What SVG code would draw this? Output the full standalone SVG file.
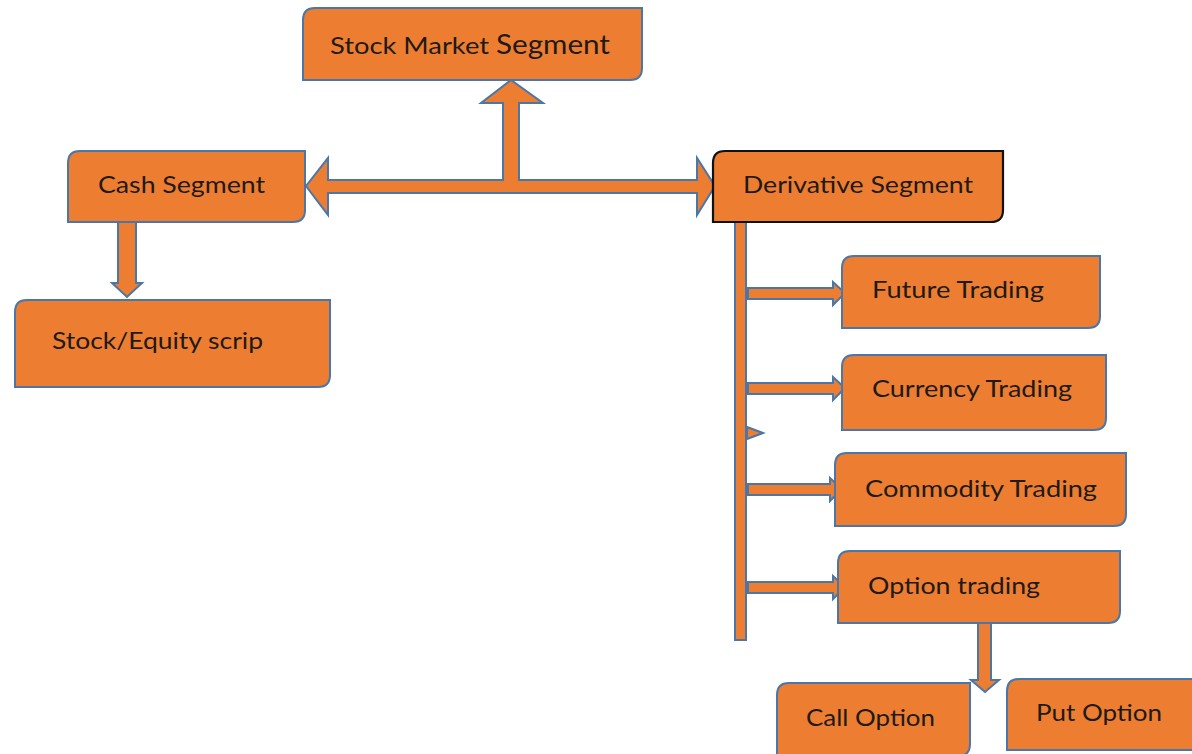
<svg xmlns="http://www.w3.org/2000/svg" width="1192" height="754" viewBox="0 0 1192 754">
  <style>
    .box { fill: #ED7D31; stroke: #4A76A8; stroke-width: 2; }
    .box-dark { fill: #ED7D31; stroke: #111111; stroke-width: 2.2; }
    .arrow { fill: #ED7D31; stroke: #4A76A8; stroke-width: 2; stroke-linejoin: miter; }
    .label { font-family: Lato, "Open Sans", "Liberation Sans", sans-serif; font-size: 24px; fill: #1E1A17; }
  </style>
  <rect width="1192" height="754" fill="#FFFFFF"/>

  <!-- connectors -->
  <g id="connectors">
    <!-- double-headed arrow between Cash and Derivative, with branch up to Stock Market -->
    <polygon class="arrow" points="306,186 328,158 328,180 503,180 503,103 481,103 511,80 543,103 519,103 519,180 697,180 697,158 715,186 697,215 697,193 328,193 328,215"/>
    <!-- Cash Segment down to Stock/Equity scrip -->
    <polygon class="arrow" points="118,222 136,222 136,283 142,283 127,297 112,283 118,283"/>
    <!-- vertical spine under Derivative Segment -->
    <rect class="arrow" x="735" y="222" width="11" height="418"/>
    <polygon class="arrow" points="747,427 763,433 747,439"/>
    <!-- branches to the trading boxes -->
    <polygon class="arrow" points="748,288 833,288 833,282 845,293 833,305 833,299 748,299"/>
    <polygon class="arrow" points="748,383 833,383 833,377 845,388 833,400 833,394 748,394"/>
    <polygon class="arrow" points="748,484 830,484 830,478 842,489 830,501 830,495 748,495"/>
    <polygon class="arrow" points="748,582 833,582 833,576 845,587 833,599 833,593 748,593"/>
    <!-- Option trading down to the option boxes -->
    <polygon class="arrow" points="978,623 991,623 991,680 999,680 985,692 971,680 978,680"/>
  </g>

  <g id="stock-market-segment">
    <path class="box" d="M315,8 H642 V68 Q642,80 630,80 H303 V20 Q303,8 315,8 Z"/>
    <text class="label" x="330" y="54" textLength="280" lengthAdjust="spacingAndGlyphs">Stock Market <tspan font-size="26">Segment</tspan></text>
  </g>

  <g id="cash-segment">
    <path class="box" d="M80,151 H305 V210 Q305,222 293,222 H68 V163 Q68,151 80,151 Z"/>
    <text class="label" x="98" y="193" textLength="167" lengthAdjust="spacingAndGlyphs">Cash Segment</text>
  </g>

  <g id="stock-equity-scrip">
    <path class="box" d="M27,300 H330 V375 Q330,387 318,387 H15 V312 Q15,300 27,300 Z"/>
    <text class="label" x="52" y="349" textLength="211" lengthAdjust="spacingAndGlyphs">Stock/Equity scrip</text>
  </g>

  <g id="derivative-segment">
    <path class="box-dark" d="M725,151 H1003 V210 Q1003,222 991,222 H713 V163 Q713,151 725,151 Z"/>
    <text class="label" x="743" y="193" textLength="230" lengthAdjust="spacingAndGlyphs">Derivative Segment</text>
  </g>

  <g id="future-trading">
    <path class="box" d="M854,256 H1100 V316 Q1100,328 1088,328 H842 V268 Q842,256 854,256 Z"/>
    <text class="label" x="872" y="298" textLength="172" lengthAdjust="spacingAndGlyphs">Future Trading</text>
  </g>

  <g id="currency-trading">
    <path class="box" d="M854,355 H1106 V418 Q1106,430 1094,430 H842 V367 Q842,355 854,355 Z"/>
    <text class="label" x="872" y="397" textLength="200" lengthAdjust="spacingAndGlyphs">Currency Trading</text>
  </g>

  <g id="commodity-trading">
    <path class="box" d="M847,453 H1126 V514 Q1126,526 1114,526 H835 V465 Q835,453 847,453 Z"/>
    <text class="label" x="865" y="497" textLength="232" lengthAdjust="spacingAndGlyphs">Commodity Trading</text>
  </g>

  <g id="option-trading">
    <path class="box" d="M850,551 H1120 V611 Q1120,623 1108,623 H838 V563 Q838,551 850,551 Z"/>
    <text class="label" x="868" y="594" textLength="172" lengthAdjust="spacingAndGlyphs">Option trading</text>
  </g>

  <g id="call-option">
    <path class="box" d="M789,683 H970 V744 Q970,756 958,756 H777 V695 Q777,683 789,683 Z"/>
    <text class="label" x="806" y="726" textLength="129" lengthAdjust="spacingAndGlyphs">Call Option</text>
  </g>

  <g id="put-option">
    <path class="box" d="M1019,679 H1194 V750 H1007 V691 Q1007,679 1019,679 Z"/>
    <text class="label" x="1036" y="721" textLength="126" lengthAdjust="spacingAndGlyphs">Put Option</text>
  </g>
</svg>
